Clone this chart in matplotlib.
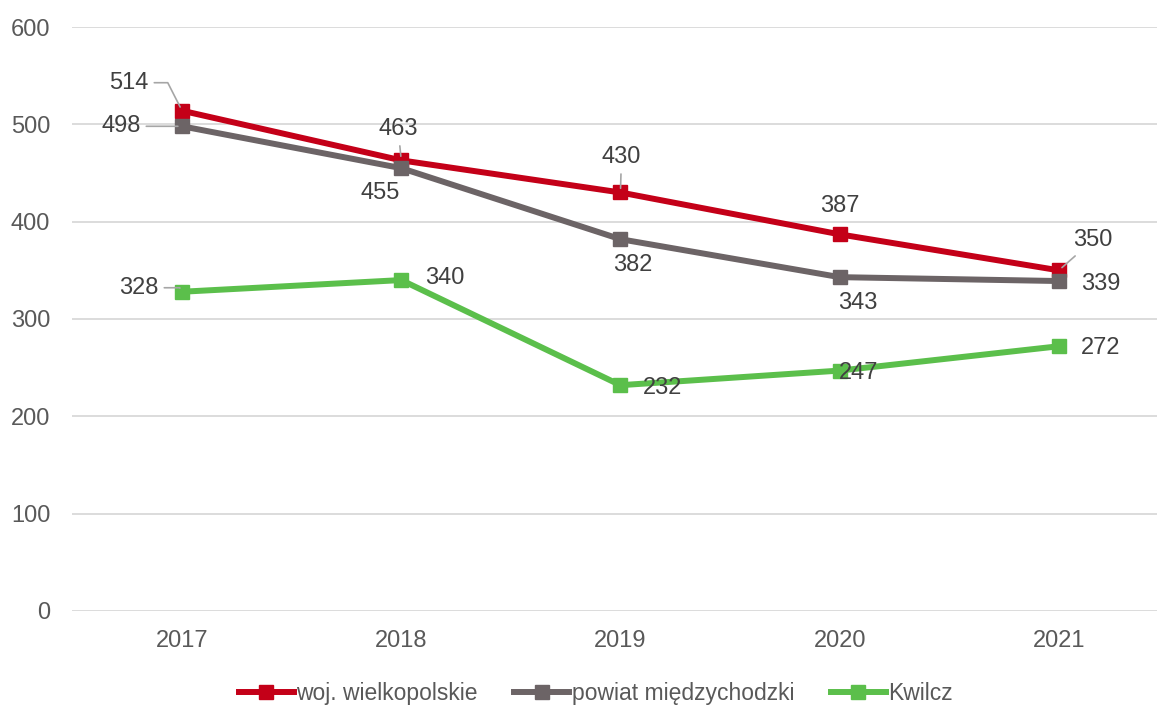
import matplotlib
matplotlib.use('Agg')
import matplotlib.pyplot as plt

years = ['2017', '2018', '2019', '2020', '2021']
woj = [514, 463, 430, 387, 350]
powiat = [498, 455, 382, 343, 339]
kwilcz = [328, 340, 232, 247, 272]

series_names = ['woj. wielkopolskie', 'powiat międzychodzki', 'Kwilcz']
series_colors = ['#C40018', '#6C6466', '#5BBF4B']

# label offsets in pixels (dx, dy) from each point
woj_offsets = [(-53, 28), (-3, 31), (1, 35), (0, 28), (34, 30)]
woj_leader = [True, True, True, False, True]
powiat_offsets = [(-61, 0), (-21, -25), (12, -26), (18, -26), (42, -3)]
kwilcz_offsets = [(-43, 4), (44, 2), (42, -3), (19, -2), (42, -2)]

plt.rcParams['font.family'] = ['Liberation Sans', 'DejaVu Sans']
FS = 17

fig = plt.figure(figsize=(11.57, 7.07), dpi=100)
ax = fig.add_axes([0.0626, 0.1358, 0.9473, 0.826])

x = list(range(len(years)))
lw = 4.3
ms = 10
ax.plot(x, woj, color=series_colors[0], lw=lw, marker='s', ms=ms, label=series_names[0], zorder=3)
ax.plot(x, powiat, color=series_colors[1], lw=lw, marker='s', ms=ms, label=series_names[1], zorder=4)
ax.plot(x, kwilcz, color=series_colors[2], lw=lw, marker='s', ms=ms, label=series_names[2], zorder=3)

ax.set_xlim(-0.5, 4.5)
ax.set_ylim(0, 600)
ax.set_yticks(range(0, 601, 100))
ax.set_xticks(x)
ax.set_xticklabels(years)
ax.yaxis.grid(True, color='#D9D9D9', lw=1.3)
ax.set_axisbelow(True)
for s in ax.spines.values():
    s.set_visible(False)
ax.tick_params(length=0, labelsize=FS, labelcolor='#595959')
ax.tick_params(axis='x', pad=14)
ax.tick_params(axis='y', pad=16)

text_kw = dict(textcoords='offset pixels', ha='center', va='center',
               fontsize=FS, color='#404040', zorder=6)


def leader(style='arc3'):
    return dict(arrowstyle='-', color='#A6A6A6', lw=1.2, shrinkA=2, shrinkB=3,
                connectionstyle=style)


for i, v in enumerate(woj):
    dx, dy = woj_offsets[i]
    ap = None
    if i == 0:
        ap = leader('angle,angleA=0,angleB=117,rad=0')
    elif woj_leader[i]:
        ap = leader()
    ax.annotate(str(v), (i, v), xytext=(dx, dy), arrowprops=ap, **text_kw)
for i, v in enumerate(powiat):
    dx, dy = powiat_offsets[i]
    ax.annotate(str(v), (i, v), xytext=(dx, dy),
                arrowprops=leader() if i == 0 else None, **text_kw)
for i, v in enumerate(kwilcz):
    dx, dy = kwilcz_offsets[i]
    ax.annotate(str(v), (i, v), xytext=(dx, dy),
                arrowprops=leader('angle,angleA=0,angleB=120,rad=0') if i == 0 else None,
                **text_kw)

fig.legend(loc='lower center', bbox_to_anchor=(0.515, -0.027), ncol=3, frameon=False,
           fontsize=16.5, labelcolor='#595959', handlelength=2.4, handletextpad=0.1,
           columnspacing=1.6)

fig.savefig('out.png', dpi=100)
